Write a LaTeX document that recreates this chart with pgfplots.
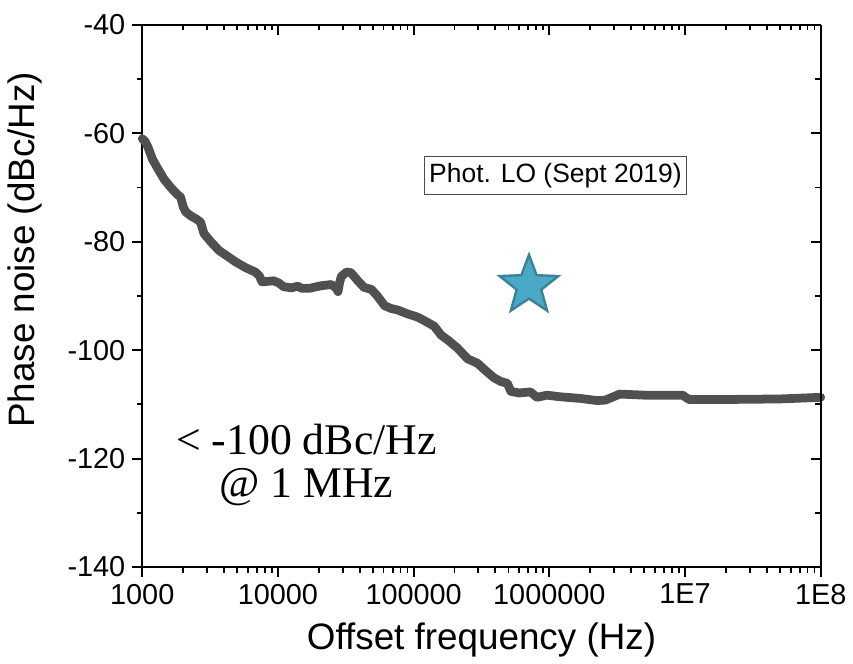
\documentclass[border=0pt]{standalone}
\usepackage{fontspec}
\setmainfont{Liberation Sans}
\newfontfamily\annfont{Liberation Serif}
\usepackage{pgfplots}
\pgfplotsset{compat=1.18}

\definecolor{trace}{HTML}{505050}
\definecolor{starfill}{HTML}{4AA9C6}
\definecolor{staredge}{HTML}{3A8397}

\pgfdeclareplotmark{fivestar}{%
  \pgfpathmoveto{\pgfpointpolar{90}{\pgfplotmarksize}}%
  \pgfpathlineto{\pgfpointpolar{126}{0.42\pgfplotmarksize}}%
  \pgfpathlineto{\pgfpointpolar{162}{\pgfplotmarksize}}%
  \pgfpathlineto{\pgfpointpolar{198}{0.42\pgfplotmarksize}}%
  \pgfpathlineto{\pgfpointpolar{234}{\pgfplotmarksize}}%
  \pgfpathlineto{\pgfpointpolar{270}{0.42\pgfplotmarksize}}%
  \pgfpathlineto{\pgfpointpolar{306}{\pgfplotmarksize}}%
  \pgfpathlineto{\pgfpointpolar{342}{0.42\pgfplotmarksize}}%
  \pgfpathlineto{\pgfpointpolar{18}{\pgfplotmarksize}}%
  \pgfpathlineto{\pgfpointpolar{54}{0.42\pgfplotmarksize}}%
  \pgfpathclose
  \pgfusepathqfillstroke}

\pgfplotsset{
  every axis/.append style={
    at={(0,0)}, anchor=south west,
    width=341pt, height=272.5pt, scale only axis,
    xmin=1000, xmax=1e8,
    ymin=-140, ymax=-40,
    xtick={1e3,1e4,1e5,1e6,1e7,1e8},
    minor xtick={2e3,3e3,4e3,5e3,6e3,7e3,8e3,9e3,
      2e4,3e4,4e4,5e4,6e4,7e4,8e4,9e4,
      2e5,3e5,4e5,5e5,6e5,7e5,8e5,9e5,
      2e6,3e6,4e6,5e6,6e6,7e6,8e6,9e6,
      2e7,3e7,4e7,5e7,6e7,7e7,8e7,9e7},
    ytick={-140,-120,-100,-80,-60,-40},
    minor ytick={-130,-110,-90,-70,-50},
    axis line style={line width=1pt, black},
    major tick length=5pt, minor tick length=2.8pt,
    every tick/.style={line width=1pt, black},
    every minor tick/.style={line width=0.9pt, black},
  }
}

\begin{document}
\begin{tikzpicture}
\begin{semilogxaxis}[
  axis x line*=bottom, axis y line*=left, tick align=outside,
  xticklabels={1000,10000,100000,1000000,1E7,1E8},
  yticklabels={-140,-120,-100,-80,-60,-40},
  ticklabel style={font=\fontsize{14.5}{17}\selectfont},
  xlabel={Offset frequency (Hz)},
  ylabel={Phase noise (dBc/Hz)},
  every axis x label/.style={at={(axis description cs:0.5,-0.135)}, anchor=center,
    font=\fontsize{18.5}{22}\selectfont},
  every axis y label/.style={at={(axis description cs:-0.173,0.585)}, rotate=90, anchor=center,
    font=\fontsize{18.5}{22}\selectfont},
  clip=false,
]
\addplot[trace, line width=4.4pt, line join=round, line cap=round] coordinates {
(1000,-61.0) (1050,-61.5) (1100,-62.5) (1190,-64.8) (1300,-66.5)
(1450,-68.5) (1623,-70.0) (1800,-71.2) (1920,-71.8) (2000,-73.5)
(2090,-74.5) (2300,-75.3) (2500,-75.8) (2690,-76.4) (2850,-78.5)
(3200,-80.0) (3670,-81.6) (4200,-82.6) (4860,-83.7) (5800,-84.8)
(6820,-85.6) (7300,-86.3) (7620,-87.4) (8500,-87.3) (9300,-87.2)
(10140,-87.6) (11000,-88.3) (12600,-88.5) (14000,-88.2) (14970,-88.6)
(17000,-88.6) (21000,-88.1) (24700,-87.9) (27000,-88.6) (27700,-89.2)
(28500,-87.5) (29300,-86.4) (32000,-85.6) (34500,-85.7) (38800,-87.2)
(43000,-88.4) (48800,-88.8) (54000,-90.0) (61100,-91.8) (68000,-92.3)
(76500,-92.6) (90000,-93.3) (107000,-93.9) (125000,-94.8) (142000,-95.6)
(159000,-97.2) (180000,-98.2) (210000,-99.6) (250000,-101.6) (295000,-102.4)
(340000,-103.8) (391000,-105.1) (440000,-105.8) (490000,-106.1) (520000,-107.6)
(600000,-107.9) (725000,-107.7) (810000,-108.7) (960000,-108.3) (1.2e6,-108.6)
(1.69e6,-108.9) (2.26e6,-109.3) (2.6e6,-109.2) (3.3e6,-108.1) (5e6,-108.3)
(9.6e6,-108.3) (1.07e7,-109.1) (2e7,-109.1) (5e7,-109.0) (1e8,-108.7)
};
\addplot[only marks, mark=fivestar, mark size=15.5pt,
  mark options={fill=starfill, draw=staredge, line width=1.2pt}]
  coordinates {(7.08e5,-88.1)};
\node[draw=black!70, line width=0.6pt, fill=white, inner xsep=2.5pt,
  minimum height=16.5pt, font=\fontsize{13.3}{15}\selectfont]
  at (axis cs:1.11e6,-67.8) {Phot. LO (Sept 2019)};
\node[anchor=base, font=\annfont\fontsize{22}{26}\selectfont]
  at (axis cs:16200,-119.3) {< -100 dBc/Hz};
\node[anchor=base, font=\annfont\fontsize{22}{26}\selectfont]
  at (axis cs:16200,-127.2) {@ 1 MHz};
\end{semilogxaxis}
\begin{semilogxaxis}[
  axis x line*=top, axis y line*=right, tick align=inside,
  xticklabels={}, yticklabels={},
]
\end{semilogxaxis}
\path[use as bounding box] (-71.5pt,-48pt) rectangle (355pt,285pt);
\end{tikzpicture}
\end{document}
